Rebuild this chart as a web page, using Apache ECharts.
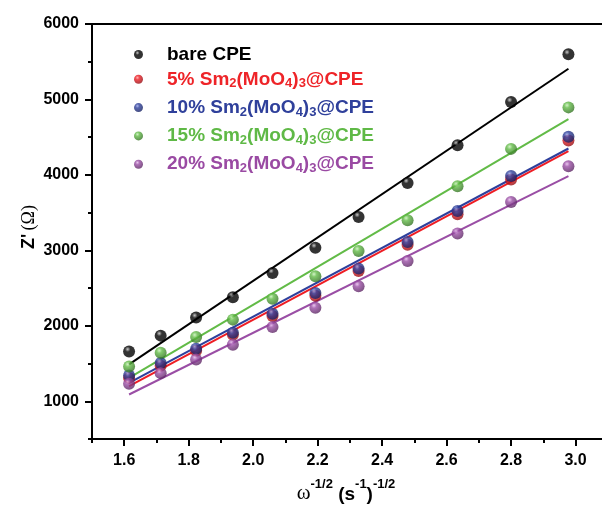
<!DOCTYPE html>
<html>
<head>
<meta charset="utf-8">
<script src="https://cdn.jsdelivr.net/npm/echarts@6/dist/echarts.min.js"></script>
<style>html,body{margin:0;padding:0;background:#fff}#c{width:602px;height:506px}</style>
</head>
<body>
<div id="c"></div>
<script>
// ---- data ----
const xVals = [1.615, 1.713, 1.823, 1.937, 2.06, 2.193, 2.327, 2.479, 2.634, 2.80, 2.978];
const bare   = [1661, 1870, 2110, 2380, 2700, 3035, 3443, 3894, 4394, 4965, 5598];
const sm5    = [1310, 1470, 1670, 1880, 2130, 2400, 2725, 3075, 3480, 3940, 4455];
const sm10   = [1342, 1506, 1697, 1909, 2161, 2435, 2758, 3111, 3523, 3987, 4505];
const sm15   = [1462, 1644, 1851, 2082, 2360, 2656, 2992, 3399, 3850, 4345, 4895];
const sm20   = [1232, 1373, 1555, 1750, 1983, 2241, 2523, 2859, 3223, 3642, 4116];
// fitted lines (endpoints)
const fitX      = [1.615, 2.978];
const bareFit   = [1490, 5407];
const sm5Fit    = [1200, 4315];
const sm10Fit   = [1245, 4350];
const sm15Fit   = [1310, 4739];
const sm20Fit   = [1090, 3983];
const names = ['bare CPE', '5% Sm2(MoO4)3@CPE', '10% Sm2(MoO4)3@CPE', '15% Sm2(MoO4)3@CPE', '20% Sm2(MoO4)3@CPE'];
const xMajor = [1.6, 1.8, 2.0, 2.2, 2.4, 2.6, 2.8, 3.0, 3.2];
const xMinor = [1.5, 1.7, 1.9, 2.1, 2.3, 2.5, 2.7, 2.9, 3.1];
const yMajor = [1000, 2000, 3000, 4000, 5000, 6000];
const yMinor = [500, 1500, 2500, 3500, 4500, 5500];
const xTitle = '{w|ω}{sup|-1/2}{b| (s}{sup|-1}{b|)}{sup|-1/2}';
const yTitle = "{b|Z'} {r|(Ω)}";

const colors = ['#000000', '#ee1d24', '#2e3f9c', '#62bb47', '#9a4ea5'];
const darks  = ['#000000', '#8a0b10', '#141e5a', '#2f6b1f', '#55225c'];
const hls    = ['#bbbbbb', '#ff9f9f', '#9aa6e6', '#c8f0b8', '#e4b8ea'];
const textColors = ['#000000', '#ee2428', '#2f409b', '#5fb946', '#9a4aa3'];

function sphere(i) {
  return {
    type: 'radial', x: 0.38, y: 0.32, r: 0.75,
    colorStops: [
      { offset: 0, color: hls[i] },
      { offset: 0.3, color: colors[i] },
      { offset: 1, color: darks[i] }
    ]
  };
}

const dataSets = [bare, sm5, sm10, sm15, sm20];
const fitSets = [bareFit, sm5Fit, sm10Fit, sm15Fit, sm20Fit];
const FONT = 'Arial, "Liberation Sans", sans-serif';
const SERIF = '"Liberation Serif", "DejaVu Serif", serif';

const series = [];
fitSets.forEach((f, i) => {
  series.push({
    name: 'fit' + i, type: 'line', symbol: 'none', silent: true,
    data: fitX.map((x, k) => [x, f[k]]),
    lineStyle: { color: colors[i], width: 2 },
    z: 2 + (i === 2 ? 1 : 0)
  });
});
[0, 1, 2, 3, 4].forEach(i => {
  series.push({
    name: names[i], type: 'scatter', symbol: 'circle', symbolSize: 12,
    data: xVals.map((x, k) => [x, dataSets[i][k]]),
    itemStyle: { color: sphere(i) },
    z: 5
  });
});

function legendFmt(n) {
  return n.replace(/Sm2\(MoO4\)3/, 'Sm{s|2}(MoO{s|4}){s|3}');
}

const chart = echarts.init(document.getElementById('c'), null, { renderer: 'canvas' });
chart.setOption({
  animation: false,
  backgroundColor: '#fff',
  grid: { left: 92, top: 24, right: -38, bottom: 67, show: false, outerBoundsMode: 'none', containLabel: false },
  legend: {
    orient: 'vertical', left: 129, top: 40, itemGap: 2.3,
    itemWidth: 9, itemHeight: 9, icon: 'circle',
    data: names.map((n, i) => ({ name: n, textStyle: { color: textColors[i], lineHeight: i === 0 ? 18 : 26 } })),
    formatter: legendFmt,
    textStyle: {
      fontFamily: FONT, fontWeight: 'bold', fontSize: 19, lineHeight: 26, padding: [0, 0, 0, 19],
      rich: { s: { fontFamily: FONT, fontWeight: 'bold', fontSize: 13, lineHeight: 13, padding: [8, 0, 2, 0], verticalAlign: 'bottom' } }
    }
  },
  graphic: [{
    type: 'text', x: 346, y: 491, silent: true,
    style: {
      text: xTitle, align: 'center', verticalAlign: 'middle', fill: '#000',
      rich: {
        w: { fontFamily: SERIF, fontWeight: 'normal', fontSize: 21, fill: '#000', lineHeight: 26, verticalAlign: 'bottom' },
        b: { fontFamily: FONT, fontWeight: 'bold', fontSize: 19, fill: '#000', lineHeight: 26, verticalAlign: 'bottom' },
        sup: { fontFamily: FONT, fontWeight: 'bold', fontSize: 13, fill: '#000', lineHeight: 13, padding: [0, 0, 12, 0], verticalAlign: 'top' }
      }
    }
  }, {
    type: 'text', x: 29, y: 227, rotation: Math.PI / 2, silent: true,
    style: {
      text: yTitle, align: 'center', verticalAlign: 'middle', fill: '#000',
      rich: {
        b: { fontFamily: FONT, fontWeight: 'bold', fontSize: 18, fill: '#000' },
        r: { fontFamily: SERIF, fontWeight: 'normal', fontSize: 18, fill: '#000' }
      }
    }
  }],
  xAxis: [{
    type: 'value', min: 1.5, max: 3.2, position: 'bottom',
    axisLine: { show: true, lineStyle: { color: '#000', width: 2 } },
    axisTick: { show: true, customValues: xMajor, length: 7, lineStyle: { color: '#000', width: 2 } },
    axisLabel: { customValues: xMajor, formatter: v => v.toFixed(1), color: '#000', fontFamily: FONT, fontWeight: 'bold', fontSize: 16, margin: 14 },
    splitLine: { show: false }
  }, {
    type: 'value', min: 1.5, max: 3.2, position: 'bottom',
    axisLine: { show: false },
    axisTick: { show: true, customValues: xMinor, length: 4, lineStyle: { color: '#000', width: 2 } },
    axisLabel: { show: false }, splitLine: { show: false }
  }, {
    type: 'value', min: 1.5, max: 3.2, position: 'top',
    axisLine: { show: true, lineStyle: { color: '#000', width: 2 } },
    axisTick: { show: false }, axisLabel: { show: false }, splitLine: { show: false }
  }],
  yAxis: [{
    type: 'value', min: 500, max: 6000, position: 'left',
    axisLine: { show: true, lineStyle: { color: '#000', width: 2 } },
    axisTick: { show: true, customValues: yMajor, length: 7, lineStyle: { color: '#000', width: 2 } },
    axisLabel: { customValues: yMajor, formatter: v => String(v), color: '#000', fontFamily: FONT, fontWeight: 'bold', fontSize: 16, margin: 13 },
    splitLine: { show: false }
  }, {
    type: 'value', min: 500, max: 6000, position: 'left',
    axisLine: { show: false },
    axisTick: { show: true, customValues: yMinor, length: 4, lineStyle: { color: '#000', width: 2 } },
    axisLabel: { show: false }, splitLine: { show: false }
  }],
  series: series
});
</script>
</body>
</html>
